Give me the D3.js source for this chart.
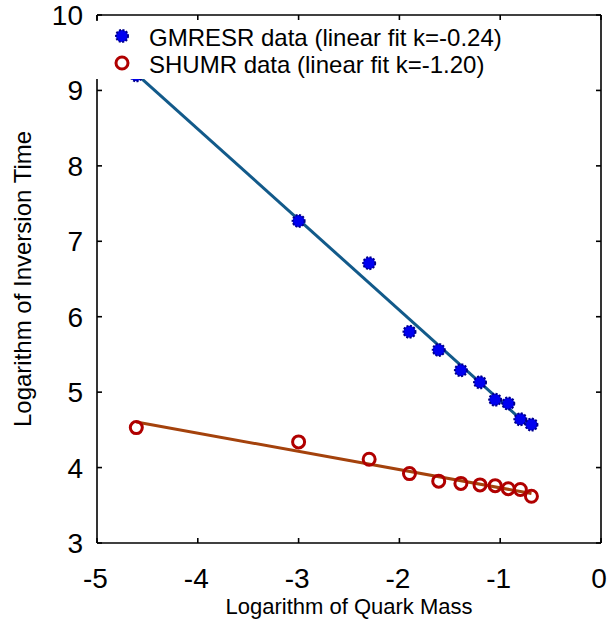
<!DOCTYPE html>
<html>
<head>
<meta charset="utf-8">
<script src="https://cdn.jsdelivr.net/npm/d3@7"></script>
<style>
  html, body { margin: 0; padding: 0; background: #fff; }
  svg { display: block; font-family: "Liberation Sans", Arial, Helvetica, sans-serif; }
</style>
</head>
<body>
<svg id="chart" width="609" height="628"></svg>
<script>
// ---- data ----
const logMass = [-4.61, -3.00, -2.30, -1.90, -1.61, -1.39, -1.20, -1.05, -0.92, -0.80, -0.69];
const gmresr  = [9.20, 7.27, 6.71, 5.80, 5.56, 5.29, 5.13, 4.90, 4.85, 4.64, 4.57];
const shumr   = [4.53, 4.34, 4.11, 3.92, 3.82, 3.79, 3.77, 3.76, 3.72, 3.71, 3.62];
const xTicks = [-5, -4, -3, -2, -1, 0];
const yTicks = [3, 4, 5, 6, 7, 8, 9, 10];
const legendLabels = ["GMRESR data (linear fit k=-0.24)", "SHUMR data (linear fit k=-1.20)"];
const xTitle = "Logarithm of Quark Mass";
const yTitle = "Logarithm of Inversion Time";

const svg = d3.select("#chart");
const L = 97, R = 601, T = 15, B = 543;
const x = d3.scaleLinear().domain([-5, 0]).range([L, R]);
const y = d3.scaleLinear().domain([3, 10]).range([B, T]);

function fit(xs, ys) {
  const mx = d3.mean(xs), my = d3.mean(ys);
  let sxy = 0, sxx = 0;
  xs.forEach((v, i) => { sxy += (v - mx) * (ys[i] - my); sxx += (v - mx) * (v - mx); });
  const k = sxy / sxx;
  return { k, b: my - k * mx };
}

const series = [
  { vals: gmresr, line: "#125a8a", kind: "blue" },
  { vals: shumr,  line: "#a4420c", kind: "red" }
];

const lineGen = d3.line().x(d => x(d[0])).y(d => y(d[1]));
const xmin = d3.min(logMass), xmax = d3.max(logMass);

// fit lines
series.forEach(s => {
  const f = fit(logMass, s.vals);
  svg.append("path")
    .attr("d", lineGen([[xmin, f.k * xmin + f.b], [xmax, f.k * xmax + f.b]]))
    .attr("stroke", s.line).attr("stroke-width", 3).attr("fill", "none");
});

function drawMarker(g, kind, cx, cy) {
  if (kind === "blue") {
    g.append("circle").attr("cx", cx).attr("cy", cy).attr("r", 6)
      .attr("fill", "#0000f0").attr("stroke", "#00008a").attr("stroke-width", 2)
      .attr("stroke-dasharray", "2,1.5");
  } else {
    g.append("circle").attr("cx", cx).attr("cy", cy).attr("r", 6)
      .attr("fill", "none").attr("stroke", "#b00000").attr("stroke-width", 3);
  }
}

// markers
series.forEach(s => {
  const g = svg.append("g");
  logMass.forEach((v, i) => drawMarker(g, s.kind, x(v), y(s.vals[i])));
});

// legend box (white, covers part of plot)
const legTop = 21, legBot = 79;
svg.append("rect").attr("x", 98.5).attr("y", legTop).attr("width", 420).attr("height", legBot - legTop).attr("fill", "#fff");
legendLabels.forEach((t, i) => {
  const ly = 36 + i * 27;
  drawMarker(svg.append("g"), series[i].kind, 122, ly);
  svg.append("text").attr("x", 149).attr("y", ly + 10).attr("font-size", 24).attr("fill", "#000").text(t);
});

// axes frame with inward ticks (left axis hidden under legend near top)
const ax = svg.append("g").attr("stroke", "#000").attr("stroke-width", 1.6).attr("fill", "none");
ax.append("line").attr("x1", L).attr("x2", R).attr("y1", B).attr("y2", B);
ax.append("line").attr("x1", L).attr("x2", R).attr("y1", T).attr("y2", T);
ax.append("line").attr("x1", R).attr("x2", R).attr("y1", T).attr("y2", B);
ax.append("line").attr("x1", L).attr("x2", L).attr("y1", legBot).attr("y2", B);
ax.append("line").attr("x1", L).attr("x2", L).attr("y1", T).attr("y2", legTop);

const tl = 5;
xTicks.forEach(v => {
  ax.append("line").attr("x1", x(v)).attr("x2", x(v)).attr("y1", B).attr("y2", B - tl);
  ax.append("line").attr("x1", x(v)).attr("x2", x(v)).attr("y1", T).attr("y2", T + tl);
});
yTicks.forEach(v => {
  if (y(v) > legBot || y(v) < legTop) ax.append("line").attr("x1", L).attr("x2", L + tl).attr("y1", y(v)).attr("y2", y(v));
  ax.append("line").attr("x1", R).attr("x2", R - tl).attr("y1", y(v)).attr("y2", y(v));
});

// tick labels
svg.append("g").selectAll("text").data(xTicks).join("text")
  .attr("x", d => x(d) - (d < 0 ? 1.5 : 2)).attr("y", 588).attr("text-anchor", "middle")
  .attr("font-size", 28).text(d => d);
svg.append("g").selectAll("text").data(yTicks).join("text")
  .attr("x", 83).attr("y", d => y(d) + 10).attr("text-anchor", "end")
  .attr("font-size", 28).text(d => d);

// axis titles
svg.append("text").attr("x", 349).attr("y", 614).attr("text-anchor", "middle")
  .attr("font-size", 22).text(xTitle);
svg.append("text").attr("transform", "translate(31,279) rotate(-90)").attr("text-anchor", "middle")
  .attr("font-size", 24).text(yTitle);
</script>
</body>
</html>
